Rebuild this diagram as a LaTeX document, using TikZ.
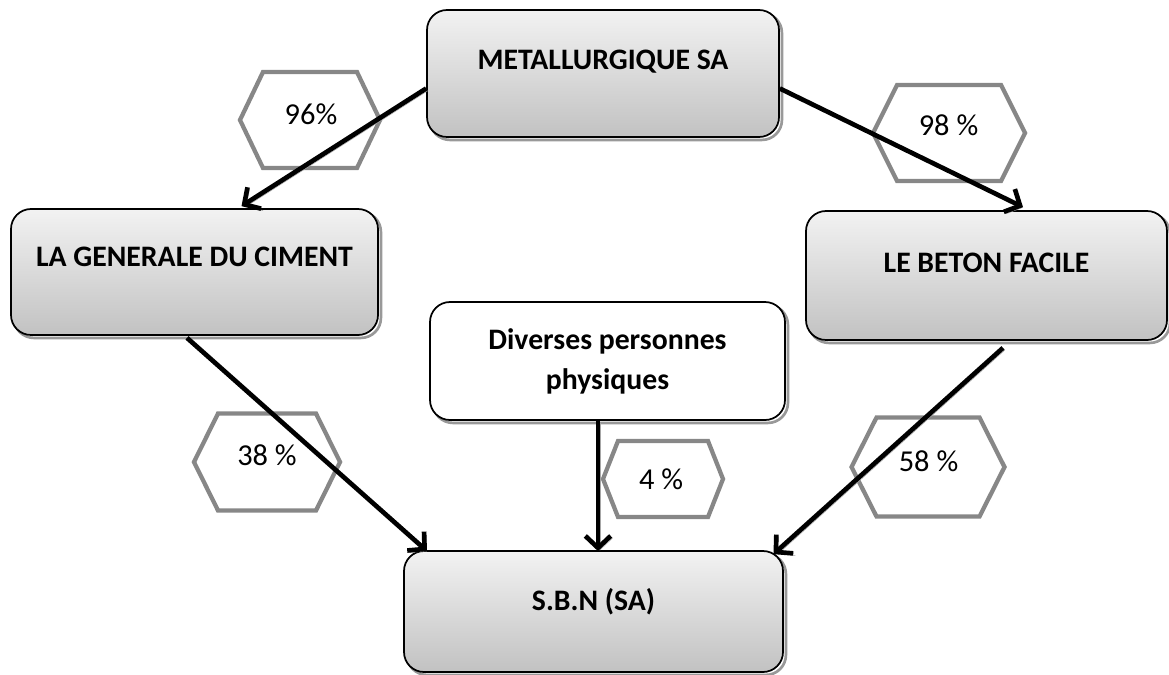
\documentclass[tikz,border=0pt]{standalone}
\usepackage{fontspec}
\setmainfont{Carlito}
\usetikzlibrary{arrows.meta,calc}
\newcommand{\hexshape}[5]{%
  \draw[hexline] ({#1-#3},#2) -- ({#1-#3+#5},{#2-#4}) -- ({#1+#3-#5},{#2-#4}) -- ({#1+#3},#2) -- ({#1+#3-#5},{#2+#4}) -- ({#1-#3+#5},{#2+#4}) -- cycle;}
\begin{document}
\begin{tikzpicture}[x=0.75pt,y=-0.75pt,
  boxshadow/.style={preaction={draw=black!40, line width=2pt, transform canvas={xshift=2.2pt,yshift=-2.2pt}}},
  box/.style={boxshadow, draw=black, line width=1.3pt, rounded corners=15pt,
    top color=gray!10, bottom color=gray!48,
    font=\fontsize{22.3}{27}\selectfont\bfseries, text height=15pt, inner sep=0pt},
  wbox/.style={boxshadow, draw=black, line width=1.3pt, rounded corners=15pt, fill=white,
    font=\fontsize{22.3}{27}\selectfont\bfseries, align=center, inner sep=0pt},
  hexline/.style={draw=black!47, line width=3.2pt, line join=miter},
  pct/.style={font=\fontsize{22.8}{27}\selectfont, inner sep=0pt},
  link/.style={line width=3.5pt, -{Straight Barb[length=9pt,width=19pt,line width=3.5pt]},
    preaction={draw=black!35, transform canvas={xshift=1.5pt,yshift=-1.5pt}}}
]
\useasboundingbox (0,0) rectangle (1169,674);

% hexagons
\hexshape{310}{120}{70}{48}{23}
\hexshape{949}{133}{76}{48}{24}
\hexshape{267}{462}{73}{48.5}{24}
\hexshape{663}{479}{60}{38}{15}
\hexshape{928}{467}{76.5}{49.5}{25}

\node[pct] (p96) at (311,114) {96\%};
\node[pct] (p98) at (948.5,125) {98 \%};
\node[pct] (p38) at (267,455) {38 \%};
\node[pct] (p4)  at (661,479) {4 \%};
\node[pct] (p58) at (928.5,461) {58 \%};

% boxes
\node[box, minimum width=264pt, minimum height=95.25pt, text depth=21.4pt] (metal) at (603,73.5) {METALLURGIQUE SA};
\node[box, minimum width=275.25pt, minimum height=94.5pt, text depth=23pt] (lagen) at (194.5,272) {LA GENERALE DU CIMENT};
\node[box, minimum width=270.75pt, minimum height=96.75pt, text depth=19.2pt] (beton) at (986.5,275.5) {LE BETON FACILE};
\node[wbox, minimum width=266.25pt, minimum height=88.5pt] (dp) at (607.5,361) {Diverses personnes\\[3pt]physiques};
\node[box, minimum width=284.25pt, minimum height=90.75pt, text depth=17pt] (sbn) at (593.5,611.5) {S.B.N (SA)};

% arrows
\draw[link] ($(metal.west)+(0,15)$) -- ($(lagen.north)+(47,-2)$);
\draw[link] ($(metal.east)+(0,15)$) -- ($(beton.north)+(36.5,-3)$);
\draw[link] ($(lagen.south)+(-7.5,2)$) -- ($(sbn.north)+(-166.5,1)$);
\draw[link] ($(dp.south)+(-9.5,0)$) -- ($(sbn.north)+(4.5,1)$);
\draw[link] ($(beton.south)+(16.5,7)$) -- ($(sbn.north)+(180,4)$);
\end{tikzpicture}
\end{document}
